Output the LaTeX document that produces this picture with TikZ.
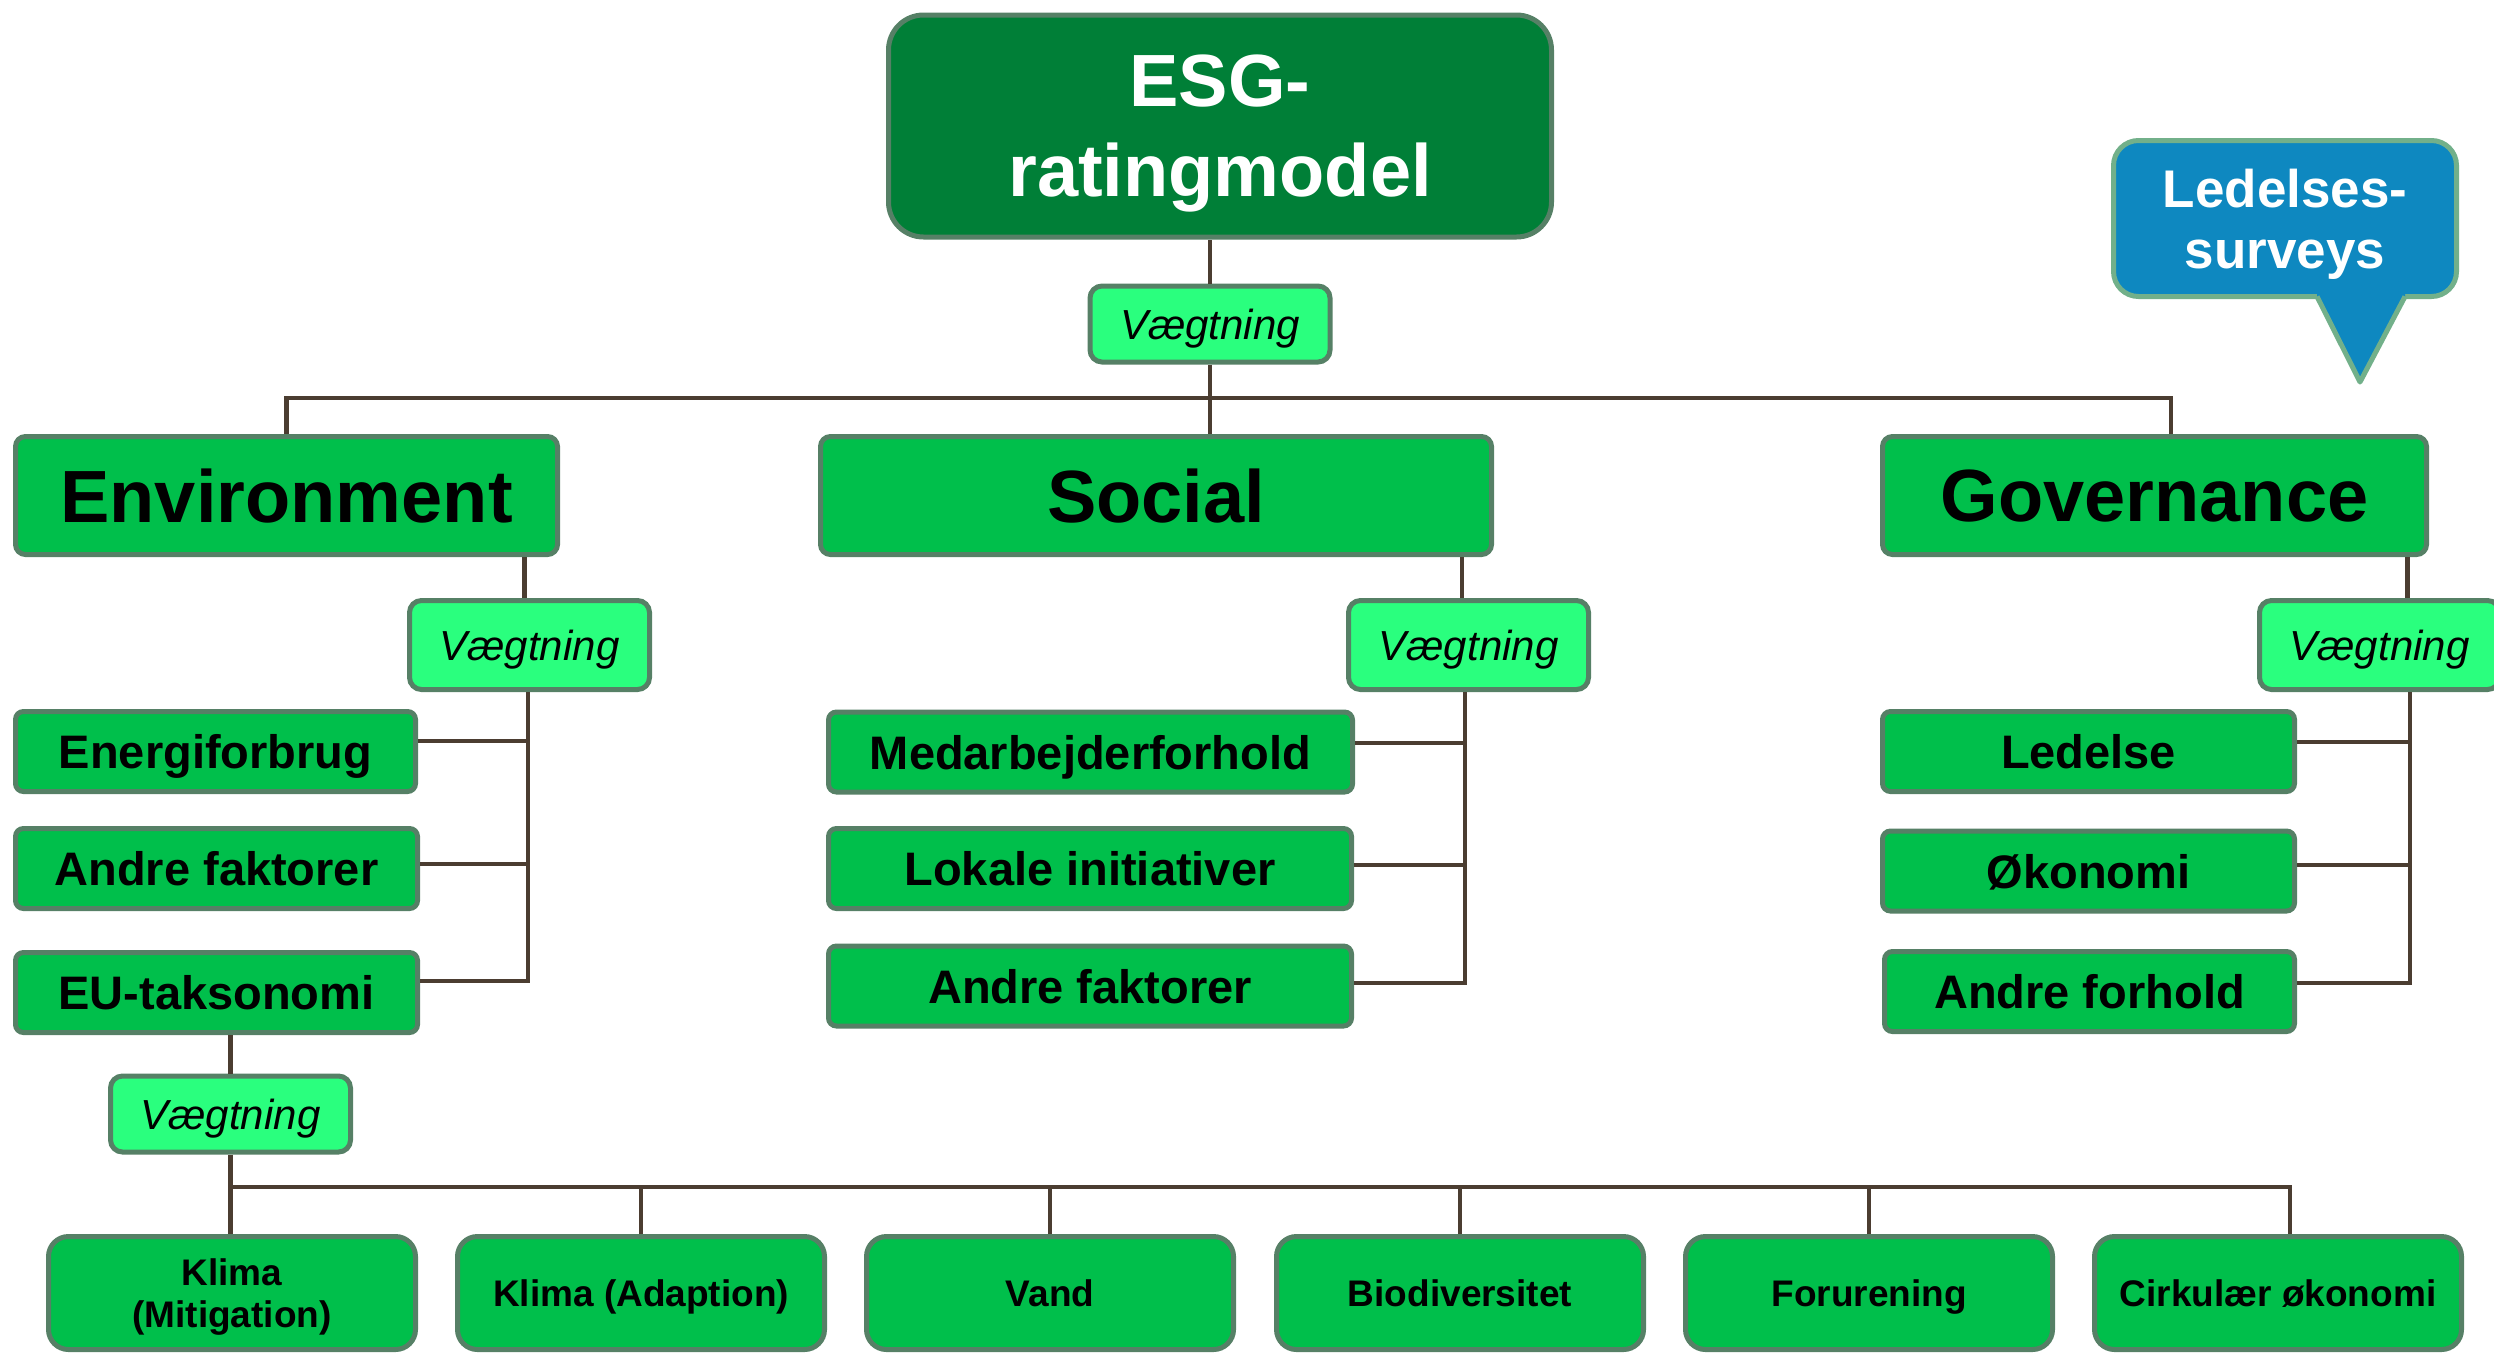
\documentclass[tikz,border=0pt]{standalone}
\usepackage{fontspec}
\setmainfont{Liberation Sans}
\definecolor{esgdark}{HTML}{007F37}
\definecolor{boxgreen}{HTML}{00BF4B}
\definecolor{wgreen}{HTML}{2AFF7E}
\definecolor{edgecol}{HTML}{568066}
\definecolor{conncol}{HTML}{4B3D31}
\definecolor{callblue}{HTML}{0E88C0}
\definecolor{calledge}{HTML}{72B08A}
\begin{document}
\begin{tikzpicture}[x=1pt,y=-1pt,
  base/.style={draw=edgecol, line width=5pt, inner sep=0pt, align=center, text depth=0pt},
  esgbox/.style={base, fill=esgdark, text=white, rounded corners=35pt, minimum width=663pt, minimum height=222pt, font=\bfseries\fontsize{74}{90}\selectfont},
  catbox/.style={base, fill=boxgreen, rounded corners=10pt, minimum height=118pt, font=\bfseries\fontsize{74}{80}\selectfont},
  itembox/.style={base, fill=boxgreen, rounded corners=8pt, minimum height=80pt, font=\bfseries\fontsize{47}{52}\selectfont},
  wbox/.style={base, fill=wgreen, rounded corners=12pt, minimum width=240pt, font=\itshape\fontsize{42}{48}\selectfont},
  subbox/.style={base, fill=boxgreen, rounded corners=20pt, minimum width=367pt, minimum height=113pt, font=\bfseries\fontsize{37}{42}\selectfont},
  callbox/.style={base, draw=calledge, fill=callblue, text=white, rounded corners=25pt, minimum width=343pt, minimum height=156pt, font=\bfseries\fontsize{53}{61}\selectfont},
  conn/.style={draw=conncol, line width=4.5pt}
]
\useasboundingbox (0,0) rectangle (2494,1355);

% top
\node[esgbox] (esg) at (1220,126) {ESG-\\ratingmodel};
\node[wbox, minimum height=76pt] (w0) at (1210,324) {Vægtning};

% categories
\node[catbox, minimum width=542pt] (env) at (286.5,495.5) {Environment};
\node[catbox, minimum width=671pt] (soc) at (1156,495.5) {Social};
\node[catbox, minimum width=544pt] (gov) at (2154.5,495.5) {Governance};

% weighting nodes level 2
\node[wbox, minimum height=89pt] (wE) at (529.5,645) {Vægtning};
\node[wbox, minimum height=89pt] (wS) at (1468.5,645) {Vægtning};
\node[wbox, minimum height=89pt] (wG) at (2379.5,645) {Vægtning};

% environment items
\node[itembox, minimum width=400pt] (e1) at (215.5,751.5) {Energiforbrug};
\node[itembox, minimum width=402pt] (e2) at (216.5,868.5) {Andre faktorer};
\node[itembox, minimum width=402pt] (e3) at (216.5,992.5) {EU-taksonomi};

% social items
\node[itembox, minimum width=524pt] (s1) at (1090.5,752) {Medarbejderforhold};
\node[itembox, minimum width=523pt] (s2) at (1090,868.5) {Lokale initiativer};
\node[itembox, minimum width=523pt] (s3) at (1090,986) {Andre faktorer};

% governance items
\node[itembox, minimum width=412pt] (g1) at (2088.5,751.5) {Ledelse};
\node[itembox, minimum width=412pt] (g2) at (2088.5,871) {Økonomi};
\node[itembox, minimum width=410pt] (g3) at (2089.5,991.5) {Andre forhold};

% EU weighting and sub items
\node[wbox, minimum height=76pt] (wB) at (230.5,1114) {Vægtning};
\node[subbox] (k1) at (232,1293) {Klima\\(Mitigation)};
\node[subbox] (k2) at (641,1293) {Klima (Adaption)};
\node[subbox] (k3) at (1050,1293) {Vand};
\node[subbox] (k4) at (1460,1293) {Biodiversitet};
\node[subbox] (k5) at (1869,1293) {Forurening};
\node[subbox] (k6) at (2278,1293) {Cirkulær økonomi};

% callout
\node[callbox] (ls) at (2285,218.5) {Ledelses-\\surveys};
\coordinate (pl) at ([xshift=32pt]ls.south);
\coordinate (pr) at ([xshift=120pt]ls.south);
\coordinate (ptip) at (2360,382);
\fill[callblue] ([yshift=8pt]pl) -- (pl) -- (ptip) -- (pr) -- ([yshift=8pt]pr) -- cycle;
\draw[calledge, line width=5pt, line join=round] ([yshift=2.5pt]pl) -- (ptip) -- ([yshift=2.5pt]pr);

% connectors top
\coordinate (bus) at (1210,398);
\coordinate (gdrop) at ([xshift=16.5pt]gov.north);
\draw[conn] (w0.north) -- (w0.north |- esg.south);
\draw[conn] (w0.south) -- (w0.south |- soc.north);
\draw[conn] (env.north) |- (bus) -| (gdrop);

% environment connectors
\coordinate (ev) at ([xshift=-1.5pt]wE.south);
\draw[conn] ([xshift=-5pt]wE.north) -- ([xshift=-5pt]wE.north |- env.south);
\draw[conn] (ev) |- ([yshift=11.5pt]e3.east);
\draw[conn] ([yshift=10.5pt]e1.east) -- ([yshift=10.5pt]e1.east -| ev);
\draw[conn] ([yshift=4.5pt]e2.east) -- ([yshift=4.5pt]e2.east -| ev);

% social connectors
\coordinate (sv) at ([xshift=-3.5pt]wS.south);
\draw[conn] ([xshift=-6.5pt]wS.north) -- ([xshift=-6.5pt]wS.north |- soc.south);
\draw[conn] (sv) |- ([yshift=3pt]s3.east);
\draw[conn] ([yshift=9pt]s1.east) -- ([yshift=9pt]s1.east -| sv);
\draw[conn] ([yshift=3.5pt]s2.east) -- ([yshift=3.5pt]s2.east -| sv);

% governance connectors
\coordinate (gv) at ([xshift=30.5pt]wG.south);
\draw[conn] ([xshift=28pt]wG.north) -- ([xshift=28pt]wG.north |- gov.south);
\draw[conn] (gv) |- ([yshift=8.5pt]g3.east);
\draw[conn] ([yshift=9.5pt]g1.east) -- ([yshift=9.5pt]g1.east -| gv);
\draw[conn] ([yshift=6pt]g2.east) -- ([yshift=6pt]g2.east -| gv);

% EU connectors
\coordinate (kbus) at (wB.south |- 0,1187);
\draw[conn] (wB.north) -- (wB.north |- e3.south);
\draw[conn] (wB.south) -- (wB.south |- k1.north);
\draw[conn] (kbus) -| ([xshift=12pt]k6.north);
\draw[conn] (k2.north) -- (k2.north |- kbus);
\draw[conn] (k3.north) -- (k3.north |- kbus);
\draw[conn] (k4.north) -- (k4.north |- kbus);
\draw[conn] (k5.north) -- (k5.north |- kbus);
\end{tikzpicture}
\end{document}
